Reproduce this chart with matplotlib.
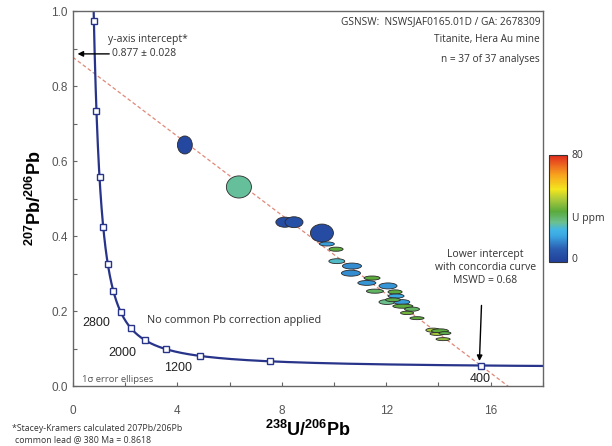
import numpy as np
import matplotlib
matplotlib.use("Agg")
import matplotlib.pyplot as plt
from matplotlib.patches import Ellipse
from matplotlib.colors import LinearSegmentedColormap, Normalize
from matplotlib.cm import ScalarMappable

# ---------------- data ----------------
# measured titanite analyses (centre, full widths of 1-sigma ellipses, U ppm)
ell_x = [4.29, 6.36, 8.12, 8.47, 9.54, 9.73, 10.08, 10.11, 10.69, 10.65,
         11.46, 11.26, 12.07, 11.57, 12.34, 12.03, 12.60, 12.64, 12.99, 13.18,
         13.79, 14.06, 13.95, 14.25, 14.18, 12.38, 12.26, 12.80]
ell_y = [0.643, 0.531, 0.437, 0.437, 0.408, 0.379, 0.365, 0.333, 0.320, 0.301,
         0.288, 0.275, 0.267, 0.253, 0.251, 0.224, 0.224, 0.213, 0.205, 0.181,
         0.149, 0.147, 0.139, 0.141, 0.125, 0.240, 0.230, 0.195]
ell_w = [0.57, 0.96, 0.69, 0.69, 0.88, 0.57, 0.54, 0.61, 0.73, 0.73,
         0.61, 0.69, 0.69, 0.65, 0.54, 0.61, 0.61, 0.77, 0.57, 0.54,
         0.54, 0.65, 0.54, 0.46, 0.54, 0.61, 0.57, 0.50]
ell_h = [0.048, 0.059, 0.027, 0.029, 0.048, 0.011, 0.011, 0.013, 0.016, 0.016,
         0.011, 0.013, 0.016, 0.011, 0.011, 0.013, 0.013, 0.011, 0.011, 0.008,
         0.011, 0.011, 0.008, 0.008, 0.008, 0.011, 0.010, 0.009]
ell_u = [3, 29, 4, 5, 4, 18, 38, 26, 16, 16,
         38, 17, 17, 34, 38, 30, 18, 38, 34, 38,
         46, 38, 46, 36, 44, 20, 36, 40]

# concordia marker ages (Ma)
marker_ages = [400, 800, 1200, 1600, 2000, 2400, 2800, 3200, 3600, 4000, 4400, 4800, 5200]
age_labels = ["400", "1200", "2000", "2800"]
age_label_pos = [(15.2, 0.018), (3.5, 0.048), (1.35, 0.087), (0.38, 0.167)]

# discordia: y-intercept and lower intercept age
y_intercept = 0.877
lower_int_age = 400

x_ticks = [0, 4, 8, 12, 16]
y_ticks = [0.0, 0.2, 0.4, 0.6, 0.8, 1.0]

# ---------------- concordia model ----------------
L238 = 1.55125e-10
L235 = 9.8485e-10
U85 = 137.88

def tw(t_ma):
    t = np.asarray(t_ma, dtype=float) * 1e6
    e8 = np.exp(L238 * t) - 1
    e5 = np.exp(L235 * t) - 1
    return 1.0 / e8, e5 / e8 / U85

plt.rcParams["mathtext.fontset"] = "custom"
plt.rcParams["mathtext.bf"] = "Liberation Sans:bold"
plt.rcParams["mathtext.rm"] = "Liberation Sans"

# ---------------- figure ----------------
fig = plt.figure(figsize=(6.12, 4.46), dpi=100)
ax = fig.add_axes([0.119, 0.1345, 0.768, 0.8405])
ax.set_xlim(0, 18)
ax.set_ylim(0, 1.0)

navy = "#28348a"
grey = "#555555"

# discordia line
lx, ly = tw(lower_int_age)
slope = (ly - y_intercept) / lx
xs = np.array([0, 18])
ax.plot(xs, y_intercept + slope * xs, ls=(0, (3, 2)), color="#e08878", lw=0.9, zorder=1)

# concordia curve
tt = np.linspace(300, 5600, 2000)
cx, cy = tw(tt)
ax.plot(cx, cy, color=navy, lw=1.6, zorder=2)
mx, my = tw(marker_ages)
ax.plot(mx, my, ls="none", marker="s", ms=4.5, mfc="white", mec=navy, mew=1.0, zorder=5)

# colormap
cmap = LinearSegmentedColormap.from_list("uppm", [
    (0.0, "#22409a"), (0.12, "#2a5cb0"), (0.24, "#3aa6e2"), (0.30, "#42b6e6"),
    (0.37, "#6cc090"), (0.47, "#5aaa3c"), (0.58, "#a8c83a"), (0.68, "#f4e61e"),
    (0.82, "#f7a01e"), (1.0, "#e0281e")])
norm = Normalize(0, 80)

for x, y, w, h, u in zip(ell_x, ell_y, ell_w, ell_h, ell_u):
    ax.add_patch(Ellipse((x, y), w, h, facecolor=cmap(norm(u)), edgecolor="#2a2a2a",
                         lw=0.6, zorder=4))

# axes styling
for s in ax.spines.values():
    s.set_color("#666666")
    s.set_linewidth(1.0)
ax.set_xticks(x_ticks)
ax.set_xticks([2, 6, 10, 14, 18], minor=True)
ax.set_yticks(y_ticks)
ax.set_yticks([0.1, 0.3, 0.5, 0.7, 0.9], minor=True)
ax.tick_params(which="both", direction="in", length=3, width=0.8, color="#666666",
               labelsize=8.5, labelcolor=grey, top=False, right=False)
ax.tick_params(axis="x", pad=14)
ax.set_xticklabels([str(v) for v in x_ticks], family="Liberation Sans")
ax.set_yticklabels(["%.1f" % v for v in y_ticks], family="Liberation Sans")

ax.set_xlabel(r"$\mathbf{^{238}U/^{206}Pb}$", fontsize=13, labelpad=2)
ax.set_ylabel(r"$\mathbf{^{207}Pb/^{206}Pb}$", fontsize=13, labelpad=5)

# annotations
af = "Open Sans"
ax.text(17.9, 0.986, "GSNSW:  NSWSJAF0165.01D / GA: 2678309", ha="right", va="top",
        fontsize=7.3, family=af, color="#333333")
ax.text(17.9, 0.938, "Titanite, Hera Au mine", ha="right", va="top", fontsize=7.3,
        family=af, color="#333333")
ax.text(17.9, 0.886, "n = 37 of 37 analyses", ha="right", va="top", fontsize=7.3,
        family=af, color="#333333")

ax.text(1.35, 0.925, "y-axis intercept*", fontsize=7.5, family=af, color="#333333",
        va="center")
ax.annotate("0.877 \u00b1 0.028", xy=(0.18, 0.886), xytext=(1.5, 0.886), fontsize=7.5,
            family=af, color="#333333", va="center",
            arrowprops=dict(arrowstyle="-|>", color="black", lw=1.0, mutation_scale=8,
                            shrinkA=0, shrinkB=0))

ax.text(15.8, 0.316, "Lower intercept\nwith concordia curve\nMSWD = 0.68", ha="center",
        va="center", fontsize=7.5, family=af, color="#333333", linespacing=1.25)
ax.annotate("", xy=(lx - 0.05, ly + 0.012), xytext=(15.65, 0.215),
            arrowprops=dict(arrowstyle="-|>", color="black", lw=1.0, mutation_scale=8,
                            shrinkA=0, shrinkB=0))

ax.text(2.85, 0.176, "No common Pb correction applied", fontsize=7.8, family=af,
        color="#333333", va="center")
ax.text(0.35, 0.018, "1\u03c3 error ellipses", fontsize=6.8, family=af, color=grey,
        va="center")

for lab, (px, py) in zip(age_labels, age_label_pos):
    ax.text(px, py, lab, fontsize=9, family="Liberation Sans", color="#222222", va="center")

fig.text(0.02, 0.04, "*Stacey-Kramers calculated 207Pb/206Pb", fontsize=6.3, family=af,
         color="#333333", va="center")
fig.text(0.024, 0.014, "common lead @ 380 Ma = 0.8618", fontsize=6.3, family=af,
         color="#333333", va="center")

# colorbar
cax = fig.add_axes([0.897, 0.4126, 0.029, 0.24])
cb = fig.colorbar(ScalarMappable(norm=norm, cmap=cmap), cax=cax)
cb.set_ticks([])
cb.outline.set_edgecolor("#333333")
cb.outline.set_linewidth(0.8)
fig.text(0.934, 0.652, "80", fontsize=7.5, family=af, color="#333333", va="center")
fig.text(0.934, 0.51, "U ppm", fontsize=7.5, family=af, color="#333333", va="center")
fig.text(0.934, 0.418, "0", fontsize=7.5, family=af, color="#333333", va="center")

fig.savefig("out.png", dpi=100)
